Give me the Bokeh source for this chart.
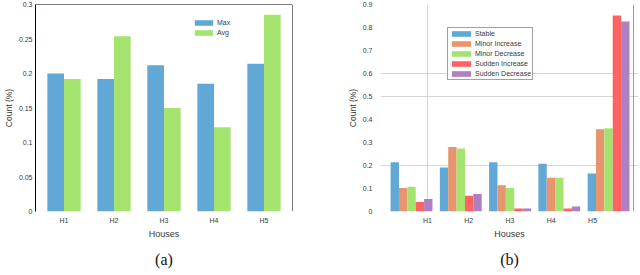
import numpy as np
from bokeh.plotting import figure
from bokeh.models import (Range1d, LinearAxis, FixedTicker, Legend, LegendItem,
                          Title, Grid, Span, CustomJSTickFormatter)
from bokeh.layouts import row
from bokeh.embed import file_html
from bokeh.resources import INLINE

# ---------------- data ----------------
houses = ["H1", "H2", "H3", "H4", "H5"]

# (a) Max / Avg
max_vals = [0.200, 0.192, 0.212, 0.185, 0.214]
avg_vals = [0.192, 0.254, 0.150, 0.122, 0.285]

# (b) change types
series_names = ["Stable", "Minor Increase", "Minor Decrease", "Sudden Increase", "Sudden Decrease"]
stable = [0.214, 0.191, 0.214, 0.208, 0.165]
minor_inc = [0.102, 0.280, 0.114, 0.147, 0.358]
minor_dec = [0.108, 0.274, 0.102, 0.147, 0.362]
sudden_inc = [0.041, 0.069, 0.013, 0.013, 0.852]
sudden_dec = [0.054, 0.076, 0.013, 0.022, 0.826]

a_ticks = [0, 0.05, 0.1, 0.15, 0.2, 0.25, 0.3]
b_ticks = [0, 0.1, 0.2, 0.3, 0.4, 0.5, 0.6, 0.7, 0.8, 0.9]

BLUE = "#62a8d7"
GREEN = "#a4e46e"
ORANGE = "#e8956e"
RED = "#ff6262"
PURPLE = "#b07fbf"
b_colors = [BLUE, ORANGE, GREEN, RED, PURPLE]

FONT = "Liberation Sans"
TXT = "#3a3a3a"
fmt = CustomJSTickFormatter(code="return String(Math.round(tick*1000)/1000);")

xs = np.arange(1, len(houses) + 1)
labels_map = {int(i): h for i, h in zip(xs, houses)}

H = 275
TOP = 4
BOT = 64


def y_axis(ticks, label, standoff, line_color):
    return LinearAxis(ticker=FixedTicker(ticks=ticks), formatter=fmt, axis_label=label,
                      axis_line_color=line_color, major_tick_line_color=None,
                      minor_tick_line_color=None, major_tick_in=0, major_tick_out=0,
                      minor_tick_in=0, minor_tick_out=0,
                      major_label_text_font=FONT, major_label_text_font_size="7px",
                      major_label_text_color=TXT, major_label_standoff=standoff,
                      axis_label_text_font=FONT, axis_label_text_font_size="8.5px",
                      axis_label_text_font_style="normal", axis_label_text_color=TXT,
                      axis_label_standoff=2)


def x_axis(**kw):
    return LinearAxis(ticker=FixedTicker(ticks=list(xs)), major_label_overrides=labels_map,
                      axis_label="Houses", axis_line_color=None, major_tick_line_color=None,
                      minor_tick_line_color=None, major_tick_in=0, major_tick_out=0,
                      minor_tick_in=0, minor_tick_out=0, major_label_text_font=FONT,
                      major_label_text_font_size="7px", major_label_text_color=TXT,
                      major_label_standoff=5, axis_label_text_font=FONT,
                      axis_label_text_font_size="9px", axis_label_text_font_style="normal",
                      axis_label_text_color=TXT, axis_label_standoff=2, **kw)


def sub_title(t):
    return Title(text=t, align="center", text_font="Liberation Serif",
                 text_font_size="16px", text_font_style="normal", text_color="#111111",
                 standoff=14, offset=-10)


# ---------------- (a) ----------------
ax0, ax1 = 0.43, 5.57
p1 = figure(width=320, height=H, x_range=Range1d(ax0, ax1), y_range=Range1d(0, 0.3),
            x_axis_type=None, y_axis_type=None, output_backend="svg",
            toolbar_location=None, min_border_left=30, min_border_right=28,
            min_border_top=TOP, min_border_bottom=BOT)
p1.outline_line_color = None
p1.grid.visible = False

bw = 0.333
r_max = p1.vbar(x=xs - bw / 2, top=max_vals, width=bw, fill_color=BLUE, line_color=None)
r_avg = p1.vbar(x=xs + bw / 2, top=avg_vals, width=bw, fill_color=GREEN, line_color=None)

p1.add_layout(y_axis(a_ticks, "Count (%)", 3, "black"), "left")
p1.add_layout(x_axis(), "below")

# top and right frame lines
p1.add_layout(Span(location=0.3, dimension="width", line_color="black", line_width=1))
p1.add_layout(Span(location=ax1, dimension="height", line_color="black", line_width=1))

leg1 = Legend(items=[LegendItem(label="Max", renderers=[r_max]),
                     LegendItem(label="Avg", renderers=[r_avg])],
              location=(157, 174), border_line_color=None, background_fill_alpha=0,
              label_text_font=FONT, label_text_font_size="7px", label_text_color=TXT,
              glyph_width=23, glyph_height=7, label_height=9, spacing=1, padding=2,
              margin=0, label_standoff=2)
p1.add_layout(leg1)
p1.add_layout(sub_title("(a)"), "below")

# ---------------- (b) ----------------
k = 0.8376  # spacing of tick labels relative to group spacing
x0, x1 = 0.37, 5.608
p2 = figure(width=320, height=H, x_range=Range1d(x0, x1), y_range=Range1d(0, 0.9),
            x_axis_type=None, y_axis_type=None, output_backend="svg",
            toolbar_location=None, min_border_left=60, min_border_right=2,
            min_border_top=TOP, min_border_bottom=BOT)
p2.outline_line_color = None
p2.grid.visible = False
p2.extra_x_ranges = {"lab": Range1d(3 + (x0 - 3) / k, 3 + (x1 - 3) / k)}

p2.add_layout(Grid(dimension=1, ticker=FixedTicker(ticks=[0.2, 0.5, 0.6]),
                   grid_line_color="#d6d6d6", grid_line_width=1))
p2.add_layout(Grid(dimension=0, ticker=FixedTicker(ticks=[1]), x_range_name="lab",
                   grid_line_color="#d6d6d6", grid_line_width=1))
p2.add_layout(Grid(dimension=0, ticker=FixedTicker(ticks=[6]), x_range_name="lab",
                   grid_line_color="#9a9a9a", grid_line_width=1))

bw2 = 0.17
b_series = [stable, minor_inc, minor_dec, sudden_inc, sudden_dec]
rends = []
for j, (vals, col) in enumerate(zip(b_series, b_colors)):
    r = p2.vbar(x=xs + (j - 2) * bw2, top=vals, width=bw2, fill_color=col, line_color=None)
    rends.append(r)

p2.add_layout(y_axis(b_ticks, "Count (%)", 8, None), "left")
p2.add_layout(x_axis(x_range_name="lab"), "below")

leg2 = Legend(items=[LegendItem(label=n, renderers=[r]) for n, r in zip(series_names, rends)],
              location=(67, 131), border_line_color="#444444", border_line_width=1,
              background_fill_color="white", background_fill_alpha=1,
              label_text_font=FONT, label_text_font_size="7px", label_text_color=TXT,
              glyph_width=24, glyph_height=7, label_height=9, spacing=1, padding=1,
              margin=0, label_standoff=2)
p2.add_layout(leg2)
p2.add_layout(sub_title("(b)"), "below")

layout = row(p1, p2)
open("out.html", "w").write(file_html(layout, INLINE))
